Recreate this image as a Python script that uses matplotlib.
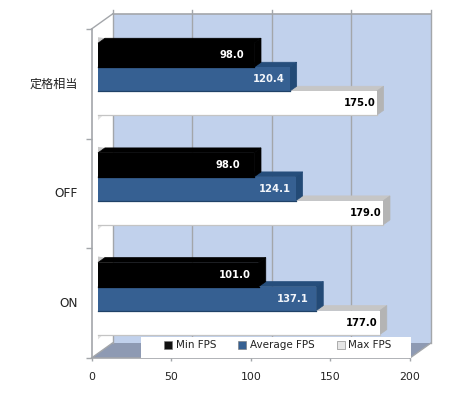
#!/usr/bin/env python3
"""FPS comparison as a fake 3D horizontal bar chart"""

import matplotlib
matplotlib.use('Agg')
import matplotlib.pyplot as plt
from matplotlib.patches import Polygon, Patch, Rectangle

plt.rcParams['font.family'] = ['DejaVu Sans', 'Noto Sans CJK JP']

categories = ['定格相当', 'OFF', 'ON']
series_names = ['Min FPS', 'Average FPS', 'Max FPS']
min_fps = [98.0, 98.0, 101.0]
avg_fps = [120.4, 124.1, 137.1]
max_fps = [175.0, 179.0, 177.0]
x_ticks = [0, 50, 100, 150, 200]

# front, top, side, bottom edge, label colour
bar_styles = [
    ('#000000', '#000000', '#000000', '#000000', 'white'),
    ('#366092', '#264e7c', '#234a76', '#1f4268', '#f2f5fa'),
    ('#ffffff', '#c6c6c6', '#b4b4b4', '#c4c4c4', 'black'),
]
# gap in pixels between bar end and right edge of the label
label_pads = [
    [9.5, 5.5, 1.5],
    [14.0, 4.5, 1.5],
    [8.5, 7.5, 2.0],
]

WIDTH, HEIGHT = 450, 395
LEFT, RIGHT, TOP, BOTTOM = 91.5, 410.0, 29.0, 358.0
DEPTH_X, DEPTH_Y = 21.0, 15.0
GRID = '#a3a6aa'

fig = plt.figure(figsize=(WIDTH / 100, HEIGHT / 100), dpi=100)
ax = fig.add_axes([LEFT / WIDTH, 1 - BOTTOM / HEIGHT,
                   (RIGHT - LEFT) / WIDTH, (BOTTOM - TOP) / HEIGHT])
ax.set_xlim(0, 200)
ax.set_ylim(len(categories), 0)
ax.patch.set_visible(False)

px_x = 200 / (RIGHT - LEFT)
px_y = len(categories) / (BOTTOM - TOP)


def proj(x, y, d=0.0):
    # d is depth, 0 = front plane, 1 = back wall
    return (x + d * DEPTH_X * px_x, y - d * DEPTH_Y * px_y)


def add_poly(points, color, zorder, lw=0):
    # a thin edge in the same colour closes the seams between faces
    ax.add_patch(Polygon(points, closed=True, facecolor=color, edgecolor=color, linewidth=lw,
                         clip_on=False, zorder=zorder))


n_cat = len(categories)

# walls and floor
add_poly([proj(0, 0, 0), proj(0, 0, 1), proj(0, n_cat, 1), proj(0, n_cat, 0)], 'white', 1)
add_poly([proj(0, 0, 1), proj(200, 0, 1), proj(200, n_cat, 1), proj(0, n_cat, 1)], '#c1d1ec', 1)
add_poly([proj(0, n_cat, 0), proj(0, n_cat, 1), proj(200, n_cat, 1), proj(200, n_cat, 0)], '#8e9ab3', 1)

# grid on the back wall, sticks out a little above the top
for t in x_ticks:
    x0, y0 = proj(t, n_cat, 1)
    x1, y1 = proj(t, -4 * px_y, 1)
    ax.plot([x0, x1], [y0, y1], color=GRID, lw=1.0, clip_on=False, zorder=2)
xa, ya = proj(0, 0, 1)
xb, yb = proj(200, 0, 1)
ax.plot([xa, xb], [ya, yb], color=GRID, lw=1.2, clip_on=False, zorder=2)
# wall edges
for p, q in [(proj(0, 0, 0), proj(0, 0, 1)),
             (proj(0, n_cat, 0), proj(0, n_cat, 1)),
             (proj(200, n_cat, 0), proj(200, n_cat, 1))]:
    ax.plot([p[0], q[0]], [p[1], q[1]], color=GRID, lw=1.0, clip_on=False, zorder=2)

# bars, the top one of each group goes in front of the ones below it
bar_h = 24 * px_y
d0, d1 = 0.31, 0.64
all_values = [min_fps, avg_fps, max_fps]
z = 3
for i in range(n_cat):
    centre = i + 0.5
    # small shadow wedge on the side wall, above the first bar and below the last
    top = centre - 1.5 * bar_h
    add_poly([proj(0, top, d0), proj(0, top, d1), proj(0, top - 6 * px_y, d0)], '#c8c8c8', z)
    low = centre + 1.5 * bar_h
    add_poly([proj(0, low, d0), proj(0, low + 3 * px_y, d1), proj(0, low + 5 * px_y, d0)], '#e2e2e2', z)
    z += 1
    for s in reversed(range(len(all_values))):
        v = all_values[s][i]
        yc = centre + (s - 1) * bar_h
        front, top_c, side, edge, txt = bar_styles[s]
        y0, y1 = yc - bar_h / 2, yc + bar_h / 2
        add_poly([proj(0, y0, d0), proj(0, y0, d1), proj(v, y0, d1), proj(v, y0, d0)], top_c, z, lw=0.5)
        add_poly([proj(v, y0, d0), proj(v, y0, d1), proj(v, y1, d1), proj(v, y1, d0)], side, z, lw=0.5)
        fx, fy = proj(0, yc, d0)
        ax.barh(fy, v, height=bar_h, left=fx, color=front, edgecolor='none',
                clip_on=False, zorder=z + 0.1)
        ax.plot([fx, fx + v], [fy + bar_h / 2, fy + bar_h / 2], color=edge, lw=0.9,
                clip_on=False, zorder=z + 0.2)
        ax.text(fx + v - label_pads[i][s] * px_x, fy, f'{v:.1f}', color=txt, fontsize=7.2,
                fontweight='bold', ha='right', va='center', zorder=50)
        z += 1

# axes
for side in ['top', 'right']:
    ax.spines[side].set_visible(False)
for side in ['left', 'bottom']:
    ax.spines[side].set_color(GRID)
    ax.spines[side].set_linewidth(1.2)
    ax.spines[side].set_zorder(2.5)
ax.set_xticks(x_ticks)
ax.set_yticks(range(n_cat + 1))
ax.set_yticklabels([])
ax.set_yticks([i + 0.5 - 1.5 * px_y for i in range(n_cat)], minor=True)
ax.set_yticklabels(categories, minor=True)
ax.tick_params(axis='y', which='major', length=4, color=GRID, width=1)
ax.tick_params(axis='y', which='minor', length=0, pad=10, labelsize=8.7, labelcolor='#222222')
ax.tick_params(axis='x', length=2, color=GRID, width=1, pad=8, labelsize=7.8, labelcolor='#222222')

# legend sits on the floor, on a white strip
fig.add_artist(Rectangle((141 / WIDTH, 1 - 358 / HEIGHT), 270 / WIDTH, 21.3 / HEIGHT,
                         transform=fig.transFigure, facecolor='white', edgecolor='none',
                         zorder=90))
handles = [Patch(facecolor=c, edgecolor='#777777', linewidth=0.4)
           for c in ['#111111', '#366092', '#e6e6e6']]
leg = fig.legend(handles, series_names, ncol=3, loc='center',
                 bbox_to_anchor=(278 / WIDTH, 1 - 345.5 / HEIGHT),
                 fontsize=7.5, frameon=False, borderpad=0, borderaxespad=0,
                 handlelength=0.77, handleheight=0.77, handletextpad=0.35,
                 columnspacing=2.1, labelcolor='#222222')
leg.set_zorder(100)

plt.savefig('out.png', dpi=100)
